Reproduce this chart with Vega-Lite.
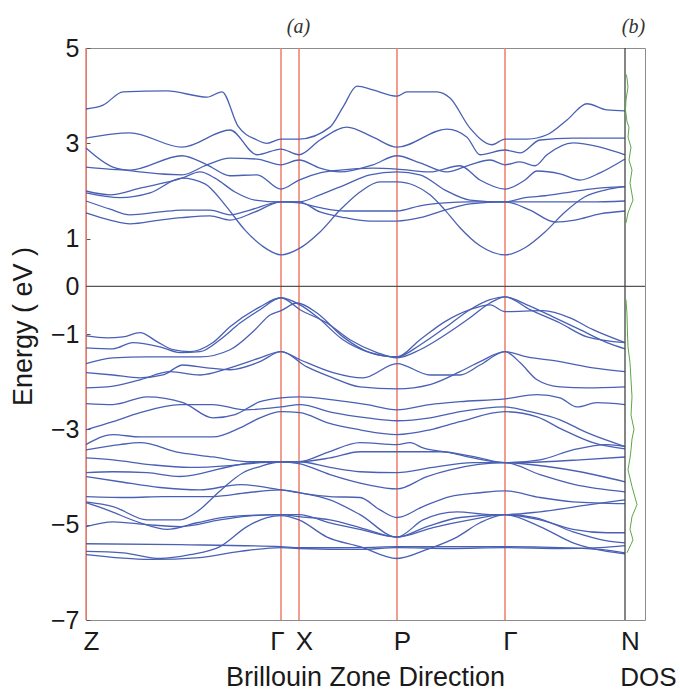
{
"$schema":"https://vega.github.io/schema/vega-lite/v6.json",
"autosize":{"type":"none"},
"width":559,"height":572,
"padding":{"left":86,"top":48,"right":35,"bottom":72},
"background":"white",
"config":{"view":{"stroke":"#8c8c8c","strokeWidth":1},"axis":{"grid":false,"labelFont":"Liberation Sans","titleFont":"Liberation Sans"}},
"layer":[
{"data":{"values":[{"pt":"Z","k":0},{"pt":"G1","k":195},{"pt":"X","k":213},{"pt":"P","k":311},{"pt":"G2","k":419}]},
 "mark":{"type":"rule","color":"#ee7d6b","strokeWidth":1.5},
 "encoding":{"x":{"field":"k","type":"quantitative","scale":{"domain":[0,559],"nice":false,"zero":false},
   "axis":{"orient":"top","labels":false,"ticks":false,"domain":false,"title":"(a)","titleFont":"Liberation Serif","titleFontStyle":"italic","titleFontWeight":"normal","titleFontSize":20,"titleColor":"#333","titleX":212,"titleY":-22,"titleBaseline":"middle","titleAlign":"center"}}}},
{"layer":[
 {"data":{"values":[
{"b":"c1","k":0,"e":3.72},{"b":"c1","k":17,"e":3.80},{"b":"c1","k":37,"e":4.08},{"b":"c1","k":81,"e":4.10},{"b":"c1","k":121,"e":3.97},{"b":"c1","k":136,"e":4.08},{"b":"c1","k":152,"e":3.36},{"b":"c1","k":171,"e":3.07},{"b":"c1","k":181,"e":3.00},{"b":"c1","k":195,"e":3.09},{"b":"c1","k":213,"e":3.09},{"b":"c1","k":244,"e":3.34},{"b":"c1","k":257,"e":3.76},{"b":"c1","k":271,"e":4.20},{"b":"c1","k":287,"e":4.12},{"b":"c1","k":311,"e":3.99},{"b":"c1","k":321,"e":4.08},{"b":"c1","k":351,"e":4.08},{"b":"c1","k":364,"e":3.95},{"b":"c1","k":384,"e":3.32},{"b":"c1","k":406,"e":2.97},{"b":"c1","k":419,"e":3.09},{"b":"c1","k":441,"e":3.09},{"b":"c1","k":461,"e":3.18},{"b":"c1","k":481,"e":3.49},{"b":"c1","k":501,"e":3.83},{"b":"c1","k":521,"e":3.70},{"b":"c1","k":539,"e":3.68},
{"b":"c2","k":0,"e":3.11},{"b":"c2","k":44,"e":3.22},{"b":"c2","k":96,"e":2.92},{"b":"c2","k":144,"e":3.28},{"b":"c2","k":171,"e":2.76},{"b":"c2","k":195,"e":2.88},{"b":"c2","k":213,"e":2.76},{"b":"c2","k":234,"e":3.07},{"b":"c2","k":261,"e":3.34},{"b":"c2","k":287,"e":3.13},{"b":"c2","k":311,"e":2.92},{"b":"c2","k":361,"e":3.30},{"b":"c2","k":381,"e":3.13},{"b":"c2","k":394,"e":2.76},{"b":"c2","k":419,"e":2.86},{"b":"c2","k":434,"e":2.80},{"b":"c2","k":454,"e":3.07},{"b":"c2","k":487,"e":3.11},{"b":"c2","k":539,"e":3.11},
{"b":"c3","k":0,"e":2.90},{"b":"c3","k":27,"e":2.50},{"b":"c3","k":54,"e":2.40},{"b":"c3","k":96,"e":2.34},{"b":"c3","k":121,"e":2.55},{"b":"c3","k":144,"e":2.69},{"b":"c3","k":171,"e":2.67},{"b":"c3","k":195,"e":2.55},{"b":"c3","k":213,"e":2.65},{"b":"c3","k":234,"e":2.48},{"b":"c3","k":254,"e":2.40},{"b":"c3","k":287,"e":2.55},{"b":"c3","k":311,"e":2.74},{"b":"c3","k":334,"e":2.59},{"b":"c3","k":361,"e":2.40},{"b":"c3","k":384,"e":2.55},{"b":"c3","k":404,"e":2.65},{"b":"c3","k":419,"e":2.55},{"b":"c3","k":434,"e":2.61},{"b":"c3","k":449,"e":2.53},{"b":"c3","k":461,"e":2.76},{"b":"c3","k":487,"e":3.01},{"b":"c3","k":514,"e":2.92},{"b":"c3","k":539,"e":2.76},
{"b":"c4","k":0,"e":2.50},{"b":"c4","k":44,"e":2.44},{"b":"c4","k":96,"e":2.74},{"b":"c4","k":121,"e":2.55},{"b":"c4","k":144,"e":2.32},{"b":"c4","k":171,"e":2.34},{"b":"c4","k":195,"e":2.04},{"b":"c4","k":213,"e":2.23},{"b":"c4","k":234,"e":2.38},{"b":"c4","k":254,"e":2.44},{"b":"c4","k":287,"e":2.48},{"b":"c4","k":311,"e":2.46},{"b":"c4","k":344,"e":2.40},{"b":"c4","k":374,"e":2.53},{"b":"c4","k":394,"e":2.23},{"b":"c4","k":419,"e":2.04},{"b":"c4","k":439,"e":2.23},{"b":"c4","k":451,"e":2.42},{"b":"c4","k":474,"e":2.36},{"b":"c4","k":494,"e":2.23},{"b":"c4","k":514,"e":2.38},{"b":"c4","k":539,"e":2.67},
{"b":"c5","k":0,"e":2.00},{"b":"c5","k":24,"e":1.92},{"b":"c5","k":54,"e":2.06},{"b":"c5","k":96,"e":2.27},{"b":"c5","k":114,"e":2.40},{"b":"c5","k":129,"e":2.27},{"b":"c5","k":149,"e":1.98},{"b":"c5","k":169,"e":1.81},{"b":"c5","k":195,"e":1.77},{"b":"c5","k":213,"e":1.77},{"b":"c5","k":234,"e":1.92},{"b":"c5","k":259,"e":2.13},{"b":"c5","k":284,"e":2.34},{"b":"c5","k":311,"e":2.40},{"b":"c5","k":334,"e":2.34},{"b":"c5","k":359,"e":2.02},{"b":"c5","k":384,"e":1.81},{"b":"c5","k":419,"e":1.77},{"b":"c5","k":439,"e":1.86},{"b":"c5","k":459,"e":1.90},{"b":"c5","k":479,"e":1.96},{"b":"c5","k":504,"e":2.04},{"b":"c5","k":539,"e":2.09},
{"b":"c6","k":0,"e":1.54},{"b":"c6","k":24,"e":1.39},{"b":"c6","k":44,"e":1.31},{"b":"c6","k":74,"e":1.39},{"b":"c6","k":96,"e":1.44},{"b":"c6","k":124,"e":1.48},{"b":"c6","k":144,"e":1.39},{"b":"c6","k":169,"e":1.56},{"b":"c6","k":195,"e":1.77},{"b":"c6","k":213,"e":1.77},{"b":"c6","k":234,"e":1.56},{"b":"c6","k":259,"e":1.44},{"b":"c6","k":284,"e":1.37},{"b":"c6","k":311,"e":1.37},{"b":"c6","k":334,"e":1.44},{"b":"c6","k":359,"e":1.60},{"b":"c6","k":384,"e":1.73},{"b":"c6","k":419,"e":1.77},{"b":"c6","k":444,"e":1.77},{"b":"c6","k":474,"e":1.77},{"b":"c6","k":504,"e":1.77},{"b":"c6","k":539,"e":1.79},
{"b":"c7","k":0,"e":1.79},{"b":"c7","k":24,"e":1.62},{"b":"c7","k":44,"e":1.50},{"b":"c7","k":74,"e":1.56},{"b":"c7","k":96,"e":1.60},{"b":"c7","k":124,"e":1.60},{"b":"c7","k":144,"e":1.50},{"b":"c7","k":164,"e":1.60},{"b":"c7","k":195,"e":1.77},{"b":"c7","k":213,"e":1.75},{"b":"c7","k":234,"e":1.65},{"b":"c7","k":259,"e":1.58},{"b":"c7","k":284,"e":1.58},{"b":"c7","k":311,"e":1.58},{"b":"c7","k":334,"e":1.69},{"b":"c7","k":359,"e":1.75},{"b":"c7","k":384,"e":1.77},{"b":"c7","k":419,"e":1.77},{"b":"c7","k":444,"e":1.60},{"b":"c7","k":469,"e":1.35},{"b":"c7","k":489,"e":1.39},{"b":"c7","k":514,"e":1.52},{"b":"c7","k":539,"e":1.58},
{"b":"c8","k":0,"e":1.96},{"b":"c8","k":34,"e":1.86},{"b":"c8","k":64,"e":1.96},{"b":"c8","k":96,"e":2.27},{"b":"c8","k":119,"e":2.15},{"b":"c8","k":139,"e":1.71},{"b":"c8","k":159,"e":1.18},{"b":"c8","k":176,"e":0.85},{"b":"c8","k":195,"e":0.66},{"b":"c8","k":213,"e":0.79},{"b":"c8","k":234,"e":1.14},{"b":"c8","k":254,"e":1.60},{"b":"c8","k":274,"e":1.98},{"b":"c8","k":294,"e":2.19},{"b":"c8","k":311,"e":2.19},{"b":"c8","k":329,"e":2.11},{"b":"c8","k":344,"e":1.92},{"b":"c8","k":359,"e":1.60},{"b":"c8","k":374,"e":1.23},{"b":"c8","k":394,"e":0.85},{"b":"c8","k":419,"e":0.66},{"b":"c8","k":439,"e":0.81},{"b":"c8","k":459,"e":1.14},{"b":"c8","k":479,"e":1.56},{"b":"c8","k":499,"e":1.88},{"b":"c8","k":519,"e":2.02},{"b":"c8","k":539,"e":2.09},
{"b":"A","k":0,"e":-1.04},{"b":"A","k":21,"e":-1.08},{"b":"A","k":37,"e":-1.06},{"b":"A","k":54,"e":-0.97},{"b":"A","k":71,"e":-1.16},{"b":"A","k":87,"e":-1.33},{"b":"A","k":104,"e":-1.37},{"b":"A","k":127,"e":-1.18},{"b":"A","k":144,"e":-0.85},{"b":"A","k":174,"e":-0.43},{"b":"A","k":195,"e":-0.24},{"b":"A","k":214,"e":-0.39},{"b":"A","k":231,"e":-0.64},{"b":"A","k":257,"e":-1.12},{"b":"A","k":281,"e":-1.37},{"b":"A","k":311,"e":-1.48},{"b":"A","k":334,"e":-1.23},{"b":"A","k":359,"e":-0.87},{"b":"A","k":384,"e":-0.49},{"b":"A","k":404,"e":-0.28},{"b":"A","k":419,"e":-0.22},{"b":"A","k":444,"e":-0.49},{"b":"A","k":474,"e":-0.77},{"b":"A","k":501,"e":-1.06},{"b":"A","k":539,"e":-1.18},
{"b":"B","k":0,"e":-1.29},{"b":"B","k":27,"e":-1.31},{"b":"B","k":47,"e":-1.18},{"b":"B","k":74,"e":-1.27},{"b":"B","k":94,"e":-1.39},{"b":"B","k":114,"e":-1.37},{"b":"B","k":134,"e":-1.12},{"b":"B","k":154,"e":-0.77},{"b":"B","k":174,"e":-0.49},{"b":"B","k":195,"e":-0.24},{"b":"B","k":214,"e":-0.49},{"b":"B","k":241,"e":-0.77},{"b":"B","k":264,"e":-1.12},{"b":"B","k":291,"e":-1.39},{"b":"B","k":311,"e":-1.50},{"b":"B","k":334,"e":-1.33},{"b":"B","k":359,"e":-1.02},{"b":"B","k":384,"e":-0.66},{"b":"B","k":404,"e":-0.35},{"b":"B","k":419,"e":-0.22},{"b":"B","k":441,"e":-0.39},{"b":"B","k":467,"e":-0.64},{"b":"B","k":494,"e":-0.91},{"b":"B","k":521,"e":-1.18},{"b":"B","k":539,"e":-1.31},
{"b":"C","k":0,"e":-1.62},{"b":"C","k":27,"e":-1.50},{"b":"C","k":61,"e":-1.48},{"b":"C","k":114,"e":-1.48},{"b":"C","k":144,"e":-1.33},{"b":"C","k":169,"e":-0.91},{"b":"C","k":184,"e":-0.60},{"b":"C","k":195,"e":-0.51},{"b":"C","k":211,"e":-0.35},{"b":"C","k":231,"e":-0.56},{"b":"C","k":257,"e":-1.06},{"b":"C","k":284,"e":-1.39},{"b":"C","k":311,"e":-1.48},{"b":"C","k":334,"e":-1.12},{"b":"C","k":359,"e":-0.74},{"b":"C","k":384,"e":-0.49},{"b":"C","k":404,"e":-0.39},{"b":"C","k":419,"e":-0.53},{"b":"C","k":457,"e":-0.51},{"b":"C","k":484,"e":-0.66},{"b":"C","k":507,"e":-0.91},{"b":"C","k":539,"e":-1.18},
{"b":"D","k":0,"e":-1.81},{"b":"D","k":27,"e":-1.86},{"b":"D","k":54,"e":-1.92},{"b":"D","k":77,"e":-1.86},{"b":"D","k":97,"e":-1.65},{"b":"D","k":121,"e":-1.71},{"b":"D","k":144,"e":-1.75},{"b":"D","k":174,"e":-1.58},{"b":"D","k":195,"e":-1.37},{"b":"D","k":214,"e":-1.54},{"b":"D","k":247,"e":-1.81},{"b":"D","k":277,"e":-1.92},{"b":"D","k":311,"e":-1.62},{"b":"D","k":344,"e":-1.86},{"b":"D","k":374,"e":-1.86},{"b":"D","k":394,"e":-1.65},{"b":"D","k":419,"e":-1.37},{"b":"D","k":441,"e":-1.48},{"b":"D","k":474,"e":-1.58},{"b":"D","k":507,"e":-1.71},{"b":"D","k":539,"e":-1.79},
{"b":"E","k":0,"e":-2.13},{"b":"E","k":21,"e":-2.11},{"b":"E","k":54,"e":-1.96},{"b":"E","k":84,"e":-1.79},{"b":"E","k":114,"e":-1.86},{"b":"E","k":144,"e":-1.71},{"b":"E","k":174,"e":-1.50},{"b":"E","k":195,"e":-1.37},{"b":"E","k":221,"e":-1.69},{"b":"E","k":247,"e":-1.92},{"b":"E","k":274,"e":-2.11},{"b":"E","k":311,"e":-2.15},{"b":"E","k":344,"e":-2.06},{"b":"E","k":374,"e":-1.79},{"b":"E","k":394,"e":-1.58},{"b":"E","k":419,"e":-1.37},{"b":"E","k":434,"e":-1.60},{"b":"E","k":451,"e":-1.96},{"b":"E","k":474,"e":-2.11},{"b":"E","k":501,"e":-2.13},{"b":"E","k":539,"e":-2.11},
{"b":"F","k":0,"e":-2.46},{"b":"F","k":27,"e":-2.48},{"b":"F","k":61,"e":-2.32},{"b":"F","k":97,"e":-2.44},{"b":"F","k":127,"e":-2.76},{"b":"F","k":149,"e":-2.69},{"b":"F","k":174,"e":-2.42},{"b":"F","k":195,"e":-2.34},{"b":"F","k":214,"e":-2.32},{"b":"F","k":247,"e":-2.38},{"b":"F","k":281,"e":-2.48},{"b":"F","k":311,"e":-2.59},{"b":"F","k":344,"e":-2.48},{"b":"F","k":374,"e":-2.42},{"b":"F","k":419,"e":-2.36},{"b":"F","k":451,"e":-2.27},{"b":"F","k":474,"e":-2.34},{"b":"F","k":491,"e":-2.53},{"b":"F","k":511,"e":-2.44},{"b":"F","k":539,"e":-2.48},
{"b":"G","k":0,"e":-3.01},{"b":"G","k":27,"e":-2.84},{"b":"G","k":54,"e":-2.65},{"b":"G","k":94,"e":-2.48},{"b":"G","k":127,"e":-2.48},{"b":"G","k":159,"e":-2.59},{"b":"G","k":195,"e":-2.53},{"b":"G","k":214,"e":-2.48},{"b":"G","k":247,"e":-2.65},{"b":"G","k":281,"e":-2.76},{"b":"G","k":311,"e":-2.82},{"b":"G","k":344,"e":-2.76},{"b":"G","k":374,"e":-2.63},{"b":"G","k":419,"e":-2.53},{"b":"G","k":444,"e":-2.63},{"b":"G","k":474,"e":-2.80},{"b":"G","k":501,"e":-3.07},{"b":"G","k":539,"e":-3.36},
{"b":"H","k":0,"e":-3.32},{"b":"H","k":27,"e":-3.11},{"b":"H","k":54,"e":-3.16},{"b":"H","k":94,"e":-3.16},{"b":"H","k":127,"e":-3.16},{"b":"H","k":154,"e":-2.97},{"b":"H","k":174,"e":-2.76},{"b":"H","k":195,"e":-2.63},{"b":"H","k":214,"e":-2.65},{"b":"H","k":241,"e":-2.86},{"b":"H","k":274,"e":-3.01},{"b":"H","k":311,"e":-3.11},{"b":"H","k":344,"e":-3.01},{"b":"H","k":374,"e":-2.84},{"b":"H","k":419,"e":-2.63},{"b":"H","k":451,"e":-2.74},{"b":"H","k":477,"e":-3.01},{"b":"H","k":507,"e":-3.28},{"b":"H","k":539,"e":-3.41},
{"b":"I","k":0,"e":-3.43},{"b":"I","k":34,"e":-3.32},{"b":"I","k":54,"e":-3.28},{"b":"I","k":94,"e":-3.49},{"b":"I","k":127,"e":-3.58},{"b":"I","k":161,"e":-3.68},{"b":"I","k":195,"e":-3.68},{"b":"I","k":213,"e":-3.68},{"b":"I","k":241,"e":-3.49},{"b":"I","k":274,"e":-3.28},{"b":"I","k":311,"e":-3.32},{"b":"I","k":324,"e":-3.28},{"b":"I","k":337,"e":-3.39},{"b":"I","k":364,"e":-3.49},{"b":"I","k":387,"e":-3.60},{"b":"I","k":419,"e":-3.70},{"b":"I","k":454,"e":-3.64},{"b":"I","k":487,"e":-3.43},{"b":"I","k":521,"e":-3.32},{"b":"I","k":539,"e":-3.36},
{"b":"J","k":0,"e":-3.60},{"b":"J","k":27,"e":-3.64},{"b":"J","k":64,"e":-3.74},{"b":"J","k":104,"e":-3.80},{"b":"J","k":144,"e":-3.76},{"b":"J","k":174,"e":-3.70},{"b":"J","k":195,"e":-3.68},{"b":"J","k":213,"e":-3.68},{"b":"J","k":244,"e":-3.60},{"b":"J","k":274,"e":-3.47},{"b":"J","k":311,"e":-3.47},{"b":"J","k":354,"e":-3.47},{"b":"J","k":389,"e":-3.58},{"b":"J","k":419,"e":-3.70},{"b":"J","k":459,"e":-3.68},{"b":"J","k":494,"e":-3.64},{"b":"J","k":539,"e":-3.58},
{"b":"K","k":0,"e":-3.91},{"b":"K","k":27,"e":-3.89},{"b":"K","k":61,"e":-3.91},{"b":"K","k":94,"e":-3.99},{"b":"K","k":144,"e":-3.78},{"b":"K","k":167,"e":-3.70},{"b":"K","k":195,"e":-3.68},{"b":"K","k":213,"e":-3.68},{"b":"K","k":244,"e":-3.80},{"b":"K","k":274,"e":-3.89},{"b":"K","k":311,"e":-3.91},{"b":"K","k":347,"e":-3.80},{"b":"K","k":387,"e":-3.70},{"b":"K","k":419,"e":-3.70},{"b":"K","k":461,"e":-3.78},{"b":"K","k":494,"e":-3.89},{"b":"K","k":539,"e":-4.10},
{"b":"L","k":0,"e":-3.99},{"b":"L","k":34,"e":-4.10},{"b":"L","k":74,"e":-4.22},{"b":"L","k":114,"e":-4.27},{"b":"L","k":154,"e":-4.16},{"b":"L","k":195,"e":-4.27},{"b":"L","k":213,"e":-4.33},{"b":"L","k":244,"e":-4.41},{"b":"L","k":274,"e":-4.43},{"b":"L","k":294,"e":-4.69},{"b":"L","k":311,"e":-4.85},{"b":"L","k":337,"e":-4.62},{"b":"L","k":364,"e":-4.41},{"b":"L","k":394,"e":-4.33},{"b":"L","k":419,"e":-4.29},{"b":"L","k":454,"e":-4.43},{"b":"L","k":487,"e":-4.52},{"b":"L","k":539,"e":-4.56},
{"b":"M","k":0,"e":-4.41},{"b":"M","k":44,"e":-4.43},{"b":"M","k":77,"e":-4.41},{"b":"M","k":127,"e":-4.41},{"b":"M","k":161,"e":-4.33},{"b":"M","k":195,"e":-4.27},{"b":"M","k":213,"e":-4.33},{"b":"M","k":244,"e":-4.48},{"b":"M","k":274,"e":-4.79},{"b":"M","k":311,"e":-5.26},{"b":"M","k":337,"e":-4.90},{"b":"M","k":371,"e":-4.73},{"b":"M","k":404,"e":-4.79},{"b":"M","k":419,"e":-4.79},{"b":"M","k":454,"e":-4.73},{"b":"M","k":504,"e":-4.58},{"b":"M","k":539,"e":-4.48},
{"b":"N","k":0,"e":-4.52},{"b":"N","k":27,"e":-4.62},{"b":"N","k":61,"e":-4.90},{"b":"N","k":94,"e":-4.90},{"b":"N","k":111,"e":-4.73},{"b":"N","k":127,"e":-4.43},{"b":"N","k":141,"e":-4.16},{"b":"N","k":157,"e":-3.91},{"b":"N","k":174,"e":-3.78},{"b":"N","k":195,"e":-3.68},{"b":"N","k":213,"e":-3.72},{"b":"N","k":244,"e":-3.95},{"b":"N","k":281,"e":-4.16},{"b":"N","k":311,"e":-4.25},{"b":"N","k":341,"e":-3.99},{"b":"N","k":364,"e":-3.85},{"b":"N","k":419,"e":-3.70},{"b":"N","k":454,"e":-3.95},{"b":"N","k":489,"e":-4.16},{"b":"N","k":539,"e":-4.31},
{"b":"O","k":0,"e":-4.54},{"b":"O","k":21,"e":-4.69},{"b":"O","k":54,"e":-4.96},{"b":"O","k":81,"e":-5.10},{"b":"O","k":111,"e":-4.96},{"b":"O","k":144,"e":-4.83},{"b":"O","k":195,"e":-4.79},{"b":"O","k":213,"e":-4.79},{"b":"O","k":244,"e":-4.96},{"b":"O","k":274,"e":-5.10},{"b":"O","k":311,"e":-5.26},{"b":"O","k":341,"e":-5.04},{"b":"O","k":374,"e":-4.85},{"b":"O","k":419,"e":-4.79},{"b":"O","k":454,"e":-4.90},{"b":"O","k":487,"e":-5.10},{"b":"O","k":521,"e":-5.17},{"b":"O","k":539,"e":-5.17},
{"b":"P","k":0,"e":-5.04},{"b":"P","k":27,"e":-4.94},{"b":"P","k":61,"e":-5.00},{"b":"P","k":94,"e":-5.04},{"b":"P","k":134,"e":-4.90},{"b":"P","k":167,"e":-4.81},{"b":"P","k":195,"e":-4.79},{"b":"P","k":213,"e":-4.83},{"b":"P","k":244,"e":-4.90},{"b":"P","k":274,"e":-5.06},{"b":"P","k":311,"e":-5.26},{"b":"P","k":347,"e":-5.06},{"b":"P","k":384,"e":-4.90},{"b":"P","k":419,"e":-4.79},{"b":"P","k":449,"e":-4.85},{"b":"P","k":487,"e":-5.15},{"b":"P","k":521,"e":-5.34},{"b":"P","k":539,"e":-5.38},
{"b":"Q","k":0,"e":-5.40},{"b":"Q","k":94,"e":-5.42},{"b":"Q","k":195,"e":-5.46},{"b":"Q","k":213,"e":-5.48},{"b":"Q","k":274,"e":-5.48},{"b":"Q","k":311,"e":-5.46},{"b":"Q","k":419,"e":-5.46},{"b":"Q","k":474,"e":-5.48},{"b":"Q","k":514,"e":-5.52},{"b":"Q","k":539,"e":-5.59},
{"b":"R","k":0,"e":-5.56},{"b":"R","k":37,"e":-5.59},{"b":"R","k":74,"e":-5.71},{"b":"R","k":104,"e":-5.63},{"b":"R","k":134,"e":-5.46},{"b":"R","k":161,"e":-5.04},{"b":"R","k":181,"e":-4.85},{"b":"R","k":195,"e":-4.81},{"b":"R","k":213,"e":-4.90},{"b":"R","k":241,"e":-5.26},{"b":"R","k":274,"e":-5.46},{"b":"R","k":311,"e":-5.71},{"b":"R","k":341,"e":-5.52},{"b":"R","k":371,"e":-5.26},{"b":"R","k":394,"e":-4.96},{"b":"R","k":419,"e":-4.79},{"b":"R","k":454,"e":-5.04},{"b":"R","k":487,"e":-5.38},{"b":"R","k":521,"e":-5.56},{"b":"R","k":539,"e":-5.61},
{"b":"S","k":0,"e":-5.63},{"b":"S","k":64,"e":-5.73},{"b":"S","k":114,"e":-5.69},{"b":"S","k":154,"e":-5.56},{"b":"S","k":195,"e":-5.48},{"b":"S","k":213,"e":-5.50},{"b":"S","k":274,"e":-5.52},{"b":"S","k":311,"e":-5.48},{"b":"S","k":364,"e":-5.50},{"b":"S","k":419,"e":-5.48},{"b":"S","k":474,"e":-5.50},{"b":"S","k":514,"e":-5.48},{"b":"S","k":539,"e":-5.44}
 ]},
 "mark":{"type":"line","interpolate":"monotone","color":"#4a60b4","strokeWidth":1.3},
 "encoding":{"x":{"field":"k","type":"quantitative","scale":{"domain":[0,559],"nice":false,"zero":false},
   "axis":{"values":[0,195,213,311,419,539],"labelExpr":"datum.value == 0 ? 'Z' : datum.value == 195 ? 'Γ' : datum.value == 213 ? 'X' : datum.value == 311 ? 'P' : datum.value == 419 ? 'Γ' : 'N'","ticks":false,"domain":false,"labelFontSize":26,"labelPadding":8,"labelColor":"#1a1a1a","labelOverlap":false,"labelFlush":false,"labelOffset":{"condition":{"test":"datum.value == 195","value":-4},"value":5},"title":"Brillouin Zone Direction","titleFontSize":27,"titleFontWeight":"normal","titleColor":"#1a1a1a","titleX":279,"titleY":65,"titleBaseline":"alphabetic","titleAlign":"center"}},
  "y":{"field":"e","type":"quantitative","scale":{"domain":[-7,5],"nice":false,"zero":false},
   "axis":{"values":[5,3,1,0,-1,-3,-5,-7],"domain":false,"ticks":true,"tickSize":-4,"tickColor":"#555","labelPadding":11,"labelFontSize":25,"labelColor":"#1a1a1a","title":"Energy ( eV )","titleFontSize":27,"titleFontWeight":"normal","titleColor":"#1a1a1a","titleX":-63,"titleY":278,"titleAngle":-90,"titleBaseline":"middle","titleAlign":"center"}},
  "detail":{"field":"b","type":"nominal"}}},
 {"data":{"values":[{"lvl":0}]},"mark":{"type":"rule","color":"#555","strokeWidth":1.2},"encoding":{"y":{"datum":0}}},
 {"data":{"values":[{"pt":"N"}]},"mark":{"type":"rule","color":"#444","strokeWidth":1.3},"encoding":{"x":{"datum":539}}}
]},
{"data":{"values":[{"e":-0.28,"d":1},{"e":-0.6,"d":2},{"e":-1.0,"d":2.5},{"e":-1.27,"d":3},{"e":-1.6,"d":5},{"e":-1.96,"d":6},{"e":-2.32,"d":7},{"e":-2.7,"d":6},{"e":-3.0,"d":9},{"e":-3.2,"d":7},{"e":-3.43,"d":6},{"e":-3.6,"d":5},{"e":-3.85,"d":3},{"e":-4.2,"d":7},{"e":-4.58,"d":12},{"e":-4.83,"d":7},{"e":-5.1,"d":5},{"e":-5.32,"d":8},{"e":-5.59,"d":2}]},
 "mark":{"type":"line","color":"#5aa845","strokeWidth":1},
 "encoding":{"x":{"field":"d","type":"quantitative","scale":{"domain":[-539,20],"nice":false,"zero":false},
   "axis":{"orient":"bottom","labels":false,"ticks":false,"domain":false,"title":"DOS","titleFontSize":26,"titleFontWeight":"normal","titleColor":"#1a1a1a","titleX":562,"titleY":65,"titleBaseline":"alphabetic","titleAlign":"center"}},
  "y":{"field":"e","type":"quantitative","scale":{"domain":[-7,5],"nice":false,"zero":false},
   "axis":{"values":[5,3,1,0,-1,-3,-5,-7],"domain":false,"ticks":true,"tickSize":-4,"tickColor":"#555","labelPadding":11,"labelFontSize":25,"labelColor":"#1a1a1a","title":"Energy ( eV )","titleFontSize":27,"titleFontWeight":"normal","titleColor":"#1a1a1a","titleX":-63,"titleY":278,"titleAngle":-90,"titleBaseline":"middle","titleAlign":"center"}},
  "order":{"field":"e","type":"quantitative"}}},
{"data":{"values":[{"e":4.45,"d":1},{"e":4.37,"d":2},{"e":4.18,"d":3},{"e":3.91,"d":1},{"e":3.7,"d":0.5},{"e":3.45,"d":2},{"e":3.34,"d":4},{"e":3.13,"d":3},{"e":2.92,"d":6},{"e":2.65,"d":4},{"e":2.44,"d":7},{"e":2.17,"d":5},{"e":1.81,"d":8},{"e":1.54,"d":3},{"e":1.33,"d":1}]},
 "mark":{"type":"line","color":"#5aa845","strokeWidth":1},
 "encoding":{"x":{"field":"d","type":"quantitative","scale":{"domain":[-539,20],"nice":false,"zero":false},
   "axis":{"orient":"top","labels":false,"ticks":false,"domain":false,"title":"(b)","titleFont":"Liberation Serif","titleFontStyle":"italic","titleFontWeight":"normal","titleFontSize":20,"titleColor":"#333","titleX":547,"titleY":-22,"titleBaseline":"middle","titleAlign":"center"}},
  "y":{"field":"e","type":"quantitative","scale":{"domain":[-7,5],"nice":false,"zero":false},
   "axis":{"values":[5,3,1,0,-1,-3,-5,-7],"domain":false,"ticks":true,"tickSize":-4,"tickColor":"#555","labelPadding":11,"labelFontSize":25,"labelColor":"#1a1a1a","title":"Energy ( eV )","titleFontSize":27,"titleFontWeight":"normal","titleColor":"#1a1a1a","titleX":-63,"titleY":278,"titleAngle":-90,"titleBaseline":"middle","titleAlign":"center"}},
  "order":{"field":"e","type":"quantitative"}}}
],
"resolve":{"scale":{"x":"independent"},"axis":{"x":"independent"}}
}
